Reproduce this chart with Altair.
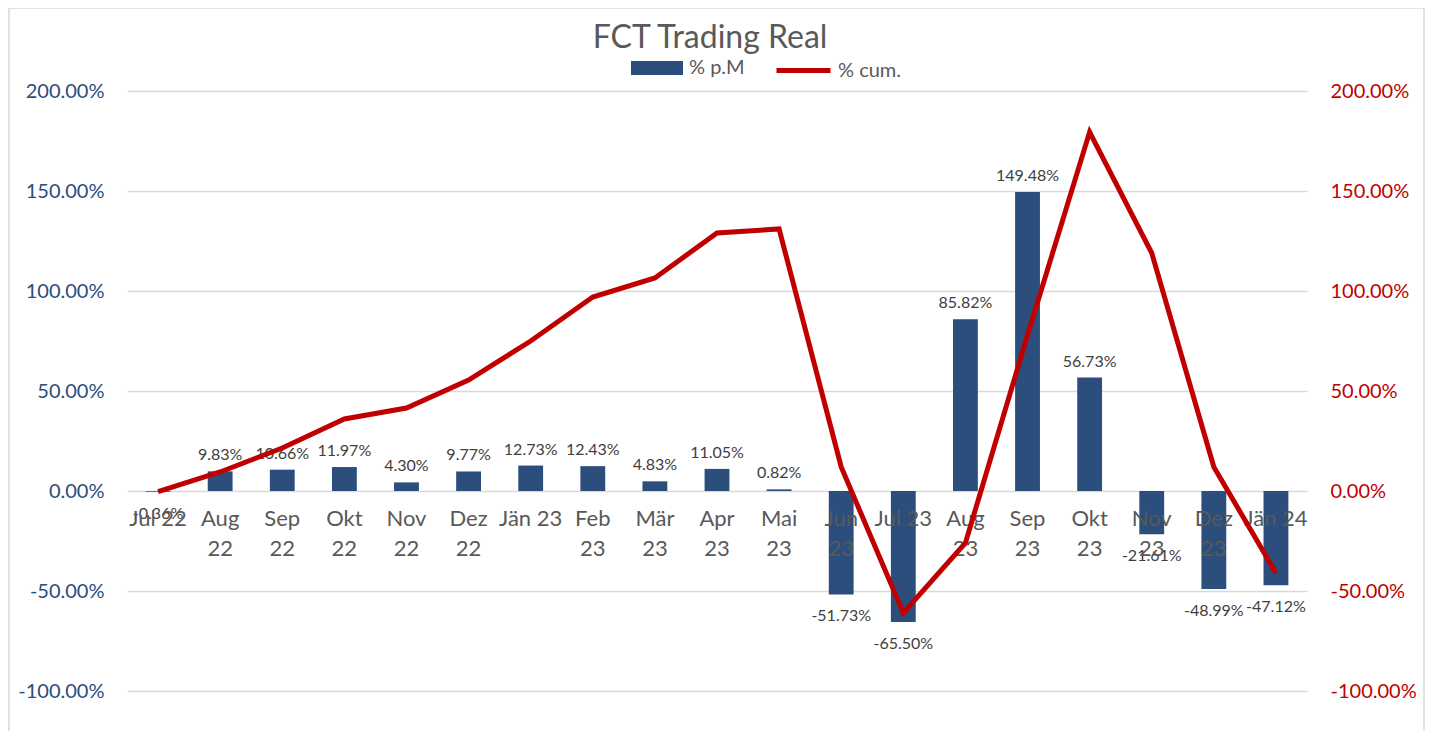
import altair as alt
import pandas as pd

months = ["Jul 22", "Aug 22", "Sep 22", "Okt 22", "Nov 22", "Dez 22", "Jän 23", "Feb 23",
          "Mär 23", "Apr 23", "Mai 23", "Jun 23", "Jul 23", "Aug 23", "Sep 23", "Okt 23",
          "Nov 23", "Dez 23", "Jän 24"]
tick_labels = ["Jul 22", "Aug\n22", "Sep\n22", "Okt\n22", "Nov\n22", "Dez\n22", "Jän 23", "Feb\n23",
               "Mär\n23", "Apr\n23", "Mai\n23", "Jun\n23", "Jul 23", "Aug\n23", "Sep\n23", "Okt\n23",
               "Nov\n23", "Dez\n23", "Jän 24"]
pm = [-0.36, 9.83, 10.66, 11.97, 4.30, 9.77, 12.73, 12.43, 4.83, 11.05, 0.82,
      -51.73, -65.50, 85.82, 149.48, 56.73, -21.61, -48.99, -47.12]
cum = [-0.36, 9.5, 21.5, 36.0, 41.5, 55.5, 75.0, 97.0, 106.5, 129.0, 131.0,
       12.0, -61.0, -26.0, 78.0, 179.5, 119.0, 12.0, -41.0]
y_ticks = [-1, -0.5, 0, 0.5, 1, 1.5, 2]

df = pd.DataFrame({
    "month": months,
    "tick": tick_labels,
    "pm": [v / 100 for v in pm],
    "cum": [v / 100 for v in cum],
})

FONT = "Lato"
BLUE = "#2B4E7C"
RED = "#C00000"
GRAY_TXT = "#404040"
LBL = "replace(format(datum.value, '.2%'), '\u2212', '-')"

x = alt.X("month:N", sort=months, axis=None,
          scale=alt.Scale(paddingInner=0.6, paddingOuter=0.3))
ydom = alt.Scale(domain=[-1, 2])
left_axis = alt.Axis(orient="left", values=y_ticks, labelExpr=LBL,
                     title=None, domain=False, ticks=False, labelPadding=23,
                     labelColor=BLUE, labelFontSize=20, labelFont=FONT,
                     gridColor="#D9D9D9", gridWidth=1.5)

base = alt.Chart(df)

bars = base.transform_calculate(s1="'% p.M'").mark_bar().encode(
    x=x,
    y=alt.Y("pm:Q", scale=ydom, axis=left_axis),
    color=alt.Color("s1:N", scale=alt.Scale(domain=["% p.M"], range=[BLUE]),
                    legend=alt.Legend(orient="none", legendX=503, legendY=-50, title=None,
                                      symbolType="M-1,-0.27H1V0.27H-1Z", symbolSize=2704,
                                      labelFont=FONT, labelFontSize=20, labelColor="#595959",
                                      labelOffset=5, symbolOpacity=1)),
)

pos_labels = base.transform_filter("datum.pm >= 0").transform_calculate(
    lab="replace(format(datum.pm, '.2%'), '\u2212', '-')").mark_text(
    font=FONT, fontSize=16, color=GRAY_TXT, baseline="bottom", dy=-8).encode(
    x=x, y=alt.Y("pm:Q", scale=ydom, axis=left_axis), text="lab:N")

neg_labels = base.transform_filter("datum.pm < 0").transform_calculate(
    lab="replace(format(datum.pm, '.2%'), '\u2212', '-')").mark_text(
    font=FONT, fontSize=16, color=GRAY_TXT, baseline="top", dy=14).encode(
    x=x, y=alt.Y("pm:Q", scale=ydom, axis=left_axis), text="lab:N")

xticks = base.transform_calculate(pm="0").mark_text(
    font=FONT, fontSize=22, color="#595959", baseline="top", dy=18,
    lineBreak="\n", lineHeight=30).encode(
    x=x, y=alt.Y("pm:Q", scale=ydom, axis=left_axis), text="tick:N")

left = alt.layer(bars, pos_labels, neg_labels, xticks)

line = base.transform_calculate(s2="'% cum.'").mark_line(strokeWidth=5, strokeJoin="miter").encode(
    x=x,
    y=alt.Y("cum:Q", scale=ydom,
            axis=alt.Axis(orient="right", values=y_ticks, labelExpr=LBL,
                          title=None, domain=False, ticks=False, grid=False, labelPadding=23,
                          labelColor=RED, labelFontSize=20, labelFont=FONT)),
    stroke=alt.Stroke("s2:N", scale=alt.Scale(domain=["% cum."], range=[RED]),
                      legend=alt.Legend(orient="none", legendX=647, legendY=-50, title=None,
                                        symbolType="stroke", symbolSize=2916,
                                        symbolStrokeWidth=5, labelFont=FONT, labelFontSize=20,
                                        labelColor="#595959", labelOffset=5)),
)

border = alt.Chart(pd.DataFrame({"a": [0]})).mark_rect(
    fill=None, stroke="#D9D9D9", strokeWidth=1.5, clip=False).encode(
    x=alt.value(-118), x2=alt.value(1297), y=alt.value(-83), y2=alt.value(660))

chart = alt.layer(border, left, line).resolve_scale(y="independent").properties(
    width=1180, height=600,
    padding={"left": 119, "top": 83, "right": 119, "bottom": 40},
    autosize=alt.AutoSizeParams(type="none"),
    title=alt.TitleParams("FCT Trading Real", font=FONT, fontSize=32, color="#595959",
                          fontWeight="normal", anchor="middle", offset=-48, dx=-7),
).configure_view(stroke=None)

chart.save("out.html", embed_options={"renderer": "svg", "actions": False})
